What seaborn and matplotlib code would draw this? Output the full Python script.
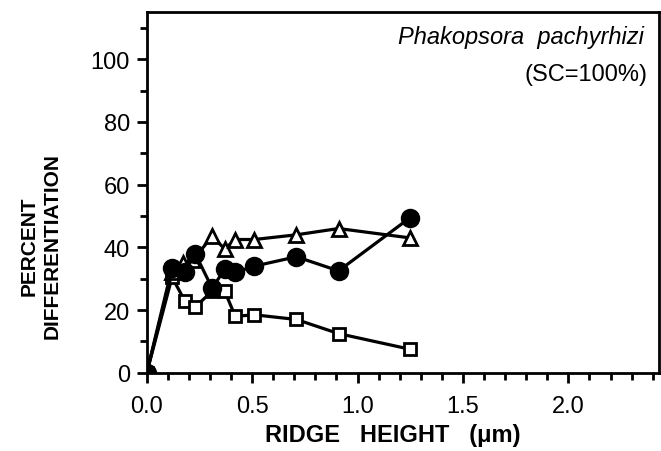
import seaborn as sns
import matplotlib.pyplot as plt
from matplotlib.ticker import MultipleLocator

# ridge height (um) and percent differentiation
height = [0.0, 0.12, 0.18, 0.23, 0.31, 0.37, 0.42, 0.51, 0.71, 0.91, 1.25]
tri_height = [0.0, 0.12, 0.17, 0.22, 0.31, 0.37, 0.42, 0.51, 0.71, 0.91, 1.25]
triangles = [0, 32, 35, 36, 43.5, 39.5, 42.5, 42.5, 44, 46, 43]
circles = [0, 33.5, 32, 38, 27, 33, 32, 34, 37, 32.5, 49.5]
squares = [0, 30.5, 23, 21, 26, 26, 18, 18.5, 17, 12.5, 7.5]

sns.set_theme(style="ticks")
plt.rcParams['font.family'] = ['Liberation Sans', 'DejaVu Sans']

fig = plt.figure(figsize=(6.61, 4.52), dpi=100)
ax = fig.add_axes([0.222, 0.173, 0.775, 0.798])

kw = dict(color='black', linewidth=2.3, markeredgecolor='black', markeredgewidth=2, sort=False, ax=ax)
sns.lineplot(x=height, y=squares, marker='s', markersize=9, markerfacecolor='white', **kw)
sns.lineplot(x=tri_height, y=triangles, marker='^', markersize=10, markerfacecolor='white', **kw)
sns.lineplot(x=height, y=circles, marker='o', markersize=12, markerfacecolor='black', **kw)
# little dots inside the open symbols
sns.scatterplot(x=height[1:], y=squares[1:], marker='s', s=6, color='black', linewidth=0, ax=ax)
sns.scatterplot(x=tri_height[1:], y=[v - 0.8 for v in triangles[1:]], marker='s', s=5, color='black',
                linewidth=0, ax=ax)

ax.set_xlim(0, 2.43)
ax.set_ylim(0, 115)
ax.xaxis.set_minor_locator(MultipleLocator(0.1))
ax.yaxis.set_minor_locator(MultipleLocator(10))
ax.set_xticks([0, 0.5, 1.0, 1.5, 2.0])
ax.set_xticklabels(['0.0', '0.5', '1.0', '1.5', '2.0'])
ax.set_yticks([0, 20, 40, 60, 80, 100])

for s in ax.spines.values():
    s.set_linewidth(2)
    s.set_color('black')
ax.tick_params(which='major', direction='out', length=7, width=2, labelsize=17, colors='black', pad=5)
ax.tick_params(axis='x', which='major', pad=9)
ax.tick_params(which='minor', direction='out', length=5, width=2, colors='black')

ax.set_xlabel('RIDGE   HEIGHT   (\u03bcm)', fontsize=17, fontweight='bold', color='black')
ax.xaxis.set_label_coords(0.48, -0.14)
ax.set_ylabel('PERCENT\nDIFFERENTIATION', fontsize=15, fontweight='bold', color='black', linespacing=1.25)
ax.yaxis.set_label_coords(-0.166, 0.355)

ax.text(0.971, 0.965, 'Phakopsora  pachyrhizi', transform=ax.transAxes, ha='right', va='top',
        fontsize=17, style='italic', color='black')
ax.text(0.977, 0.86, '(SC=100%)', transform=ax.transAxes, ha='right', va='top', fontsize=17,
        color='black')

fig.savefig('out.png', dpi=100, facecolor='white')
